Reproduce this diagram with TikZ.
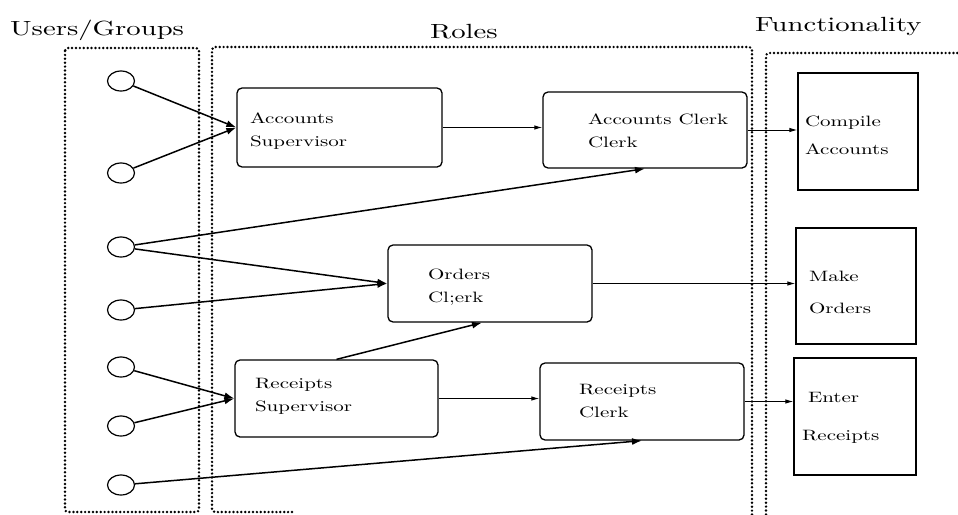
\documentclass[tikz,border=0pt]{standalone}
\usepackage{fontspec}
\setmainfont{lmroman10-regular.otf}
\usetikzlibrary{arrows.meta,shapes.geometric}
\newcommand{\sx}[1]{\scalebox{1.4}[1]{#1}}
\newcommand{\up}[1]{\rule{0pt}{#1}}
\begin{document}
\begin{tikzpicture}[x=1pt,y=-1pt,
  dots/.style={line width=2.7pt,dash pattern=on 0pt off 3.9pt,line cap=round,rounded corners=3pt},
  title/.style={anchor=base west,inner sep=0pt,font=\fontsize{20.5}{24}\selectfont},
  user/.style={draw,ellipse,line width=1.2pt,minimum width=27pt,minimum height=20pt,inner sep=0pt},
  role/.style={draw,rounded corners=5pt,line width=1.3pt,align=left,font=\fontsize{15}{23}\selectfont},
  func/.style={draw,line width=1.2pt,align=left,font=\fontsize{15}{23}\selectfont},
  thick arrow/.style={line width=1.5pt,-{Latex[length=10pt,width=7pt]}},
  thin arrow/.style={line width=1pt,-{Latex[length=8pt,width=4.5pt]}}
]
\useasboundingbox (0,0) rectangle (958,514);
% titles
\node[title] (tusers) at (10,35) {\sx{Users/Groups}};
\node[title] (troles) at (430,38) {\sx{Roles}};
\node[title] (tfunc) at (755,31) {\sx{Functionality}};
% containers
\draw[dots] (65,48) rectangle (199,512);
\draw[dots] (292,512) -- (212,512) -- (212,47) -- (752,47) -- (752,530);
\draw[dots] (766,530) -- (766,53) -- (970,53);
% users
\node[user] (u1) at (121,81) {};
\node[user] (u2) at (121,173) {};
\node[user] (u3) at (121,247) {};
\node[user] (u4) at (121,310) {};
\node[user] (u5) at (121,367) {};
\node[user] (u6) at (121,426) {};
\node[user] (u7) at (121,485) {};
% roles
\node[role,inner xsep=13pt,text width=179pt,minimum height=79pt] (asup) at (339.5,127.5) {\up{17pt}\sx{Accounts}\\\sx{Supervisor}};
\node[role,inner xsep=45pt,text width=114pt,minimum height=76pt] (aclerk) at (645,130) {\up{13pt}\sx{Accounts Clerk}\\\sx{Clerk}};
\node[role,inner xsep=40pt,text width=124pt,minimum height=77pt] (orders) at (490,283.5) {\up{18.4pt}\sx{Orders}\\\sx{Cl;erk}};
\node[role,inner xsep=20pt,text width=163pt,minimum height=77pt] (rsup) at (336.5,398.5) {\sx{Receipts}\\\sx{Supervisor}\rule[-7pt]{0pt}{0pt}};
\node[role,inner xsep=39pt,text width=126pt,minimum height=77pt] (rclerk) at (642,401.5) {\sx{Receipts}\\\sx{Clerk}};
% functions
\node[func,inner xsep=7pt,text width=106pt,minimum height=117pt] (compile) at (858,131.5) {\up{19pt}\sx{Compile}\\[5pt]\sx{Accounts}};
\node[func,inner xsep=13pt,text width=94pt,minimum height=116pt] (make) at (856,286) {\up{24pt}\sx{Make}\\[9pt]\sx{Orders}};
\node[func,inner xsep=8pt,text width=106pt,minimum height=117pt] (enter) at (855,416.5) {\up{12pt}\hspace*{6pt}\sx{Enter}\\[15pt]\sx{Receipts}};
% user connectors
\draw[thick arrow] (u1) -- (asup.west);
\draw[thick arrow] (u2) -- (asup.west);
\draw[thick arrow] (u3) -- (aclerk.south);
\draw[thick arrow] (u3) -- (orders.west);
\draw[thick arrow] (u4) -- (orders.west);
\draw[thick arrow] (u5) -- (rsup.west);
\draw[thick arrow] (u6) -- (rsup.west);
\draw[thick arrow] (u7) -- (rclerk.south);
\draw[thick arrow] (rsup.north) -- ([xshift=-8pt]orders.south);
% role connectors
\draw[thin arrow] (asup.east) -- (asup.east -| aclerk.west);
\draw[thin arrow] (rsup.east) -- (rsup.east -| rclerk.west);
\draw[thin arrow] (aclerk.east) -- (aclerk.east -| compile.west);
\draw[thin arrow] (orders.east) -- (orders.east -| make.west);
\draw[thin arrow] (rclerk.east) -- (rclerk.east -| enter.west);
\end{tikzpicture}
\end{document}
